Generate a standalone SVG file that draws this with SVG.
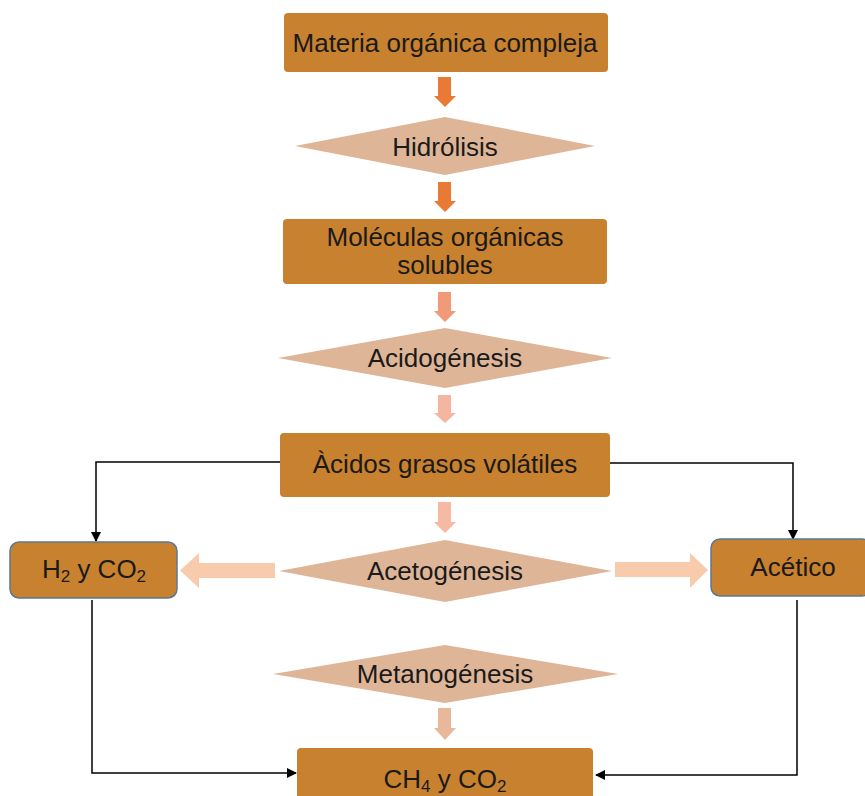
<svg xmlns="http://www.w3.org/2000/svg" width="865" height="796" viewBox="0 0 865 796">
<defs>
<style>
.box{fill:#C8812E;}
.side{fill:#C8812E;stroke:#5A7896;stroke-width:1.5;}
.dia{fill:#DEB597;}
.t{font-family:"Liberation Sans",Arial,sans-serif;font-size:26px;fill:#1a1a1a;text-anchor:middle;}
.ln{fill:none;stroke:#000;stroke-width:1.5;}
</style>
<marker id="ah" markerWidth="10" markerHeight="10" refX="9" refY="5" orient="auto" markerUnits="userSpaceOnUse">
<path d="M0,0 L10,5 L0,10 z" fill="#000"/>
</marker>
</defs>
<rect width="865" height="796" fill="#fff"/>

<g id="connectors">
<path class="ln" d="M280,462 H96 V541" marker-end="url(#ah)"/>
<path class="ln" d="M610,463 H793 V539" marker-end="url(#ah)"/>
<path class="ln" d="M92,600 V773 H296" marker-end="url(#ah)"/>
<path class="ln" d="M797,600 V775 H596" marker-end="url(#ah)"/>
<polygon points="438,77 451,77 451,96 456,96 445,107 434,96 438,96" fill="#E97A35"/>
<polygon points="438,182 451,182 451,201 456,201 445,212 434,201 438,201" fill="#E97A35"/>
<polygon points="438,292 451,292 451,311 456,311 445,322 434,311 438,311" fill="#F09A78"/>
<polygon points="438,395 451,395 451,413 456,413 445,423 434,413 438,413" fill="#F4B6A0"/>
<polygon points="438,502 451,502 451,522 456,522 445,533 434,522 438,522" fill="#F6B9A3"/>
<polygon points="438,708 451,708 451,728 456,728 445,740 434,728 438,728" fill="#E9B89A"/>
<polygon points="275,563 199,563 199,553 180,570.5 199,588 199,578 275,578" fill="#F8CBAD"/>
<polygon points="615,562 690,562 690,553 708,570 690,588 690,577 615,577" fill="#F8CBAD"/>
</g>

<g id="n-materia">
<rect class="box" x="284" y="13" width="324" height="59" rx="4"/>
<text class="t" x="445" y="52">Materia orgánica compleja</text>
</g>
<g id="n-hidrolisis">
<polygon class="dia" points="295,146 445,117 595,146 445,175"/>
<text class="t" x="445" y="156">Hidrólisis</text>
</g>
<g id="n-moleculas">
<rect class="box" x="283" y="219" width="324" height="65" rx="4"/>
<text class="t" x="445" y="246" font-size="24">Moléculas orgánicas</text>
<text class="t" x="445" y="274" font-size="24">solubles</text>
</g>
<g id="n-acidogenesis">
<polygon class="dia" points="278,358 445,328 612,358 445,388"/>
<text class="t" x="445" y="367">Acidogénesis</text>
</g>
<g id="n-acidos">
<rect class="box" x="280" y="433" width="330" height="64" rx="4"/>
<text class="t" x="445" y="473">Àcidos grasos volátiles</text>
</g>
<g id="n-h2">
<rect class="side" x="10" y="542" width="167" height="56" rx="9"/>
<text class="t" x="94" y="578" font-size="24">H<tspan font-size="17" dy="4">2</tspan><tspan dy="-4"> y CO</tspan><tspan font-size="17" dy="4">2</tspan></text>
</g>
<g id="n-acetogenesis">
<polygon class="dia" points="279,571 445,540 612,571 445,602"/>
<text class="t" x="445" y="580">Acetogénesis</text>
</g>
<g id="n-acetico">
<rect class="side" x="711" y="539" width="160" height="57" rx="9"/>
<text class="t" x="793" y="576">Acético</text>
</g>
<g id="n-metanogenesis">
<polygon class="dia" points="273,674 445,645 618,674 445,703"/>
<text class="t" x="445" y="683">Metanogénesis</text>
</g>
<g id="n-ch4">
<rect class="box" x="297" y="748" width="296" height="60" rx="4"/>
<text class="t" x="445" y="788" font-size="24">CH<tspan font-size="17" dy="4">4</tspan><tspan dy="-4"> y CO</tspan><tspan font-size="17" dy="4">2</tspan></text>
</g>
</svg>
